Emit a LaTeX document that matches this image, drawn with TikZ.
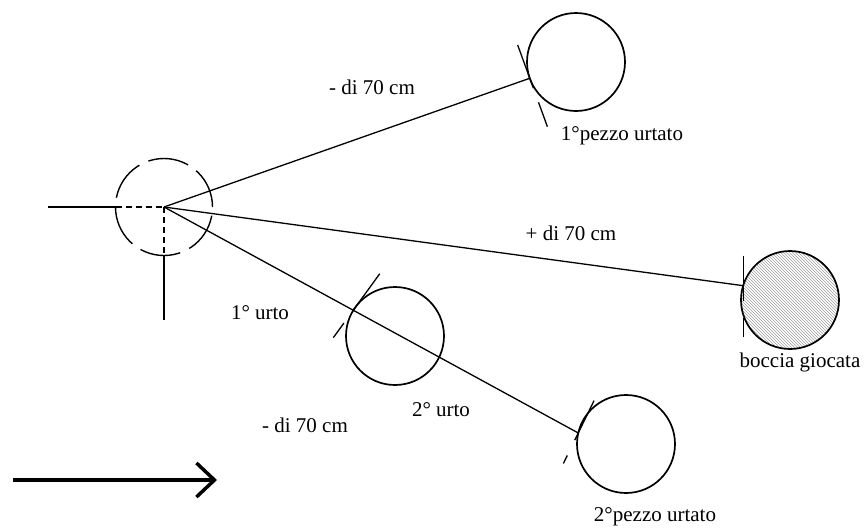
\documentclass[tikz,border=0pt]{standalone}
\usepackage{fontspec}
\setmainfont{Liberation Serif}
\usetikzlibrary{arrows.meta, patterns}

\begin{document}
\begin{tikzpicture}[
		x=1pt, y=-1pt,
		font=\fontsize{21}{25}\selectfont,
		ball/.style={
			circle,
			draw,
			line width=1.7pt,
			minimum size=98pt,
			inner sep=0pt,
			outer sep=0pt
		},
		ghost/.style={
			circle,
			draw,
			line width=1.4pt,
			dash pattern=on 41pt off 10pt,
			minimum size=97pt,
			inner sep=0pt,
			outer sep=0pt
		},
		shot/.style={
			line width=1.3pt
		},
		hidden/.style={
			line width=1.4pt,
			dash pattern=on 6pt off 4pt
		},
		touch/.style={
			line width=1.3pt
		}
		]

		\useasboundingbox (0,0) rectangle (865,531);

		%------------------------------------------------
		% BALLS
		%------------------------------------------------

		\node[ghost] (G) at (164,207) {};
		\coordinate (C) at (164,207);

		\node[ball] (P1) at (576,62) {};
		\node[ball] (P2) at (395,336) {};
		\node[ball] (P3) at (626,444) {};

		\node[
		ball,
		pattern=north west lines,
		pattern color=gray!75
		] (B) at (790,300) {};

		%------------------------------------------------
		% CROSS AT THE START
		%------------------------------------------------

		\coordinate (H) at (48,207);
		\coordinate (V) at (164,320);

		\draw[shot] (H) -- (G.west);
		\draw[hidden] (G.west) -- (C);
		\draw[hidden] (C) -- (G.south);
		\draw[shot] (G.south) -- (V);

		%------------------------------------------------
		% SHOTS
		%------------------------------------------------

		\draw[shot] (C) -- (P1);
		\draw[shot] (C) -- (B.163);
		\draw[shot] (C) -- (P3.167);

		%------------------------------------------------
		% CONTACT MARKS
		%------------------------------------------------

		\draw[touch] ([shift={(110:36pt)}]P1.200) -- ([shift={(290:10pt)}]P1.200);
		\draw[touch] ([shift={(290:25pt)}]P1.200) -- ([shift={(290:51pt)}]P1.200);

		\draw[touch] ([shift={(54:44pt)}]P2.147) -- (P2.147);
		\draw[touch] ([shift={(234:17pt)}]P2.147) -- ([shift={(234:35pt)}]P2.147);

		\draw[touch] ([shift={(64:36pt)}]P3.167) -- ([shift={(244:8pt)}]P3.167);
		\draw[touch] ([shift={(244:25pt)}]P3.167) -- ([shift={(244:34pt)}]P3.167);

		\draw[touch] ([shift={(90:30pt)}]B.163) -- ([shift={(270:15pt)}]B.163);
		\draw[touch] ([shift={(270:32pt)}]B.163) -- ([shift={(270:51pt)}]B.163);

		%------------------------------------------------
		% LABELS
		%------------------------------------------------

		\node (d1) at (372,87) {- di 70 cm};
		\node (n1) at (622,136) {1°pezzo urtato};
		\node (d2) at (571,233) {+ di 70 cm};
		\node (nb) at (800,362) {boccia giocata};
		\node (u1) at (260,313) {1° urto};
		\node (u2) at (441,410) {2° urto};
		\node (d3) at (305,425) {- di 70 cm};
		\node (n3) at (655,517) {2°pezzo urtato};

		%------------------------------------------------
		% DIRECTION ARROW
		%------------------------------------------------

		\coordinate (A0) at (13,480);
		\coordinate (A1) at (217,480);

		\draw[line width=3.5pt, -{Straight Barb[length=18pt,width=34pt]}] (A0) -- (A1);

	\end{tikzpicture}
\end{document}
